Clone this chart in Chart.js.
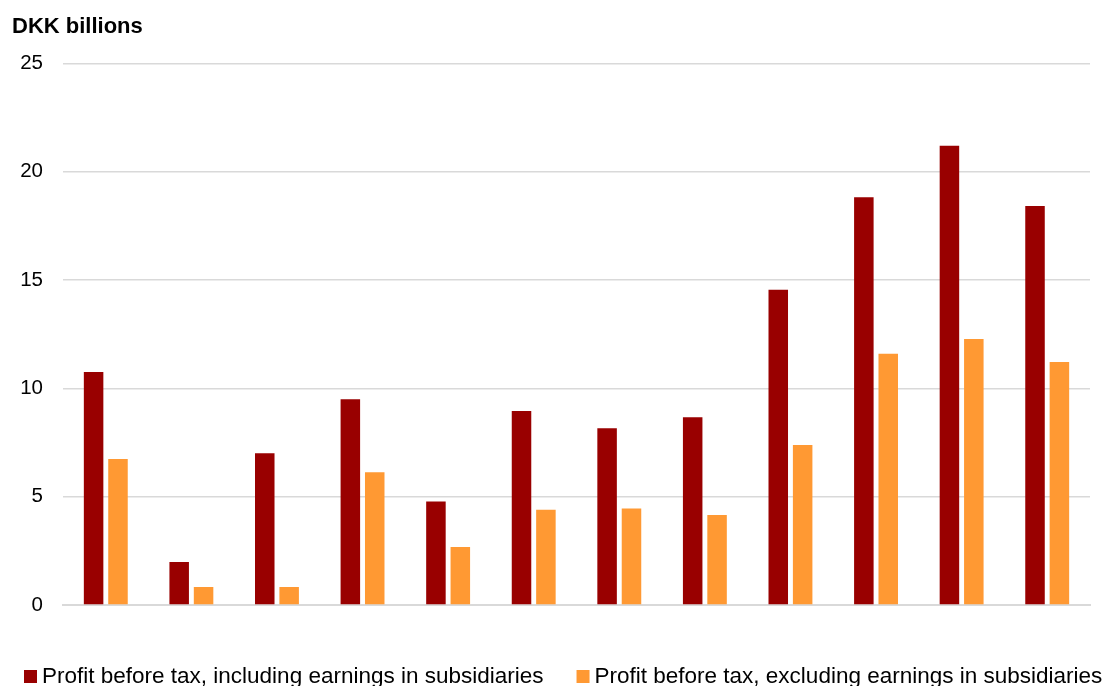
<!DOCTYPE html>
<html>
<head>
<meta charset="utf-8">
<script src="https://cdn.jsdelivr.net/npm/chart.js@4.4.1/dist/chart.umd.min.js"></script>
<style>
  html, body { margin: 0; padding: 0; background: #fff; }
  #wrap { width: 1104px; height: 686px; }
</style>
</head>
<body>
<div id="wrap"><canvas id="chart" width="1104" height="686"></canvas></div>
<script>
// x axis has no labels, one slot per period
const categories = ['', '', '', '', '', '', '', '', '', '', '', ''];
const inclSubsidiaries = [10.75, 1.98, 7.01, 9.5, 4.78, 8.95, 8.16, 8.67, 14.55, 18.82, 21.2, 18.42];
const exclSubsidiaries = [6.74, 0.83, 0.83, 6.13, 2.68, 4.4, 4.45, 4.15, 7.38, 11.6, 12.28, 11.22];
const yTicks = [0, 5, 10, 15, 20, 25];

const seriesNames = [
  'Profit before tax, including earnings in subsidiaries',
  'Profit before tax, excluding earnings in subsidiaries'
];
const colours = ['#990000', '#ff9933'];
const font = 'Liberation Sans, Arial, Helvetica, sans-serif';

// legend drawn under the plot: square marker + label, left to right
const bottomLegend = {
  id: 'bottomLegend',
  afterDraw(chart) {
    const ctx = chart.ctx;
    ctx.save();
    ctx.font = '22.5px ' + font;
    ctx.textBaseline = 'middle';
    let x = 24;
    const y = 677;
    chart.data.datasets.forEach(ds => {
      ctx.fillStyle = ds.backgroundColor;
      ctx.fillRect(x, y - 7, 13, 13);
      ctx.fillStyle = '#000';
      ctx.fillText(ds.label, x + 18, y);
      x += 18 + ctx.measureText(ds.label).width + 33;
    });
    ctx.restore();
  }
};

new Chart(document.getElementById('chart'), {
  type: 'bar',
  data: {
    labels: categories,
    datasets: [
      { label: seriesNames[0], data: inclSubsidiaries, backgroundColor: colours[0] },
      { label: seriesNames[1], data: exclSubsidiaries, backgroundColor: colours[1] }
    ]
  },
  options: {
    responsive: false,
    animation: false,
    categoryPercentage: 0.57,
    barPercentage: 0.8,
    layout: { padding: { left: 12, right: 14, bottom: 73 } },
    plugins: {
      legend: { display: false },
      tooltip: { enabled: false },
      title: {
        display: true,
        text: 'DKK billions',
        align: 'start',
        color: '#000',
        font: { family: font, size: 22, weight: 'bold' },
        padding: { top: 14, bottom: 23 }
      }
    },
    scales: {
      x: {
        ticks: { display: false },
        grid: { display: false },
        border: { color: '#d9d9d9', width: 2 }
      },
      y: {
        min: 0,
        max: 25,
        afterBuildTicks: s => { s.ticks = yTicks.map(v => ({ value: v })); },
        afterFit: s => { s.width = 51; },
        ticks: {
          color: '#000',
          padding: 20,
          font: { family: font, size: 20.5 }
        },
        grid: { color: '#d9d9d9', lineWidth: 1.5, drawTicks: false },
        border: { display: false }
      }
    }
  },
  plugins: [bottomLegend]
});
</script>
</body>
</html>
